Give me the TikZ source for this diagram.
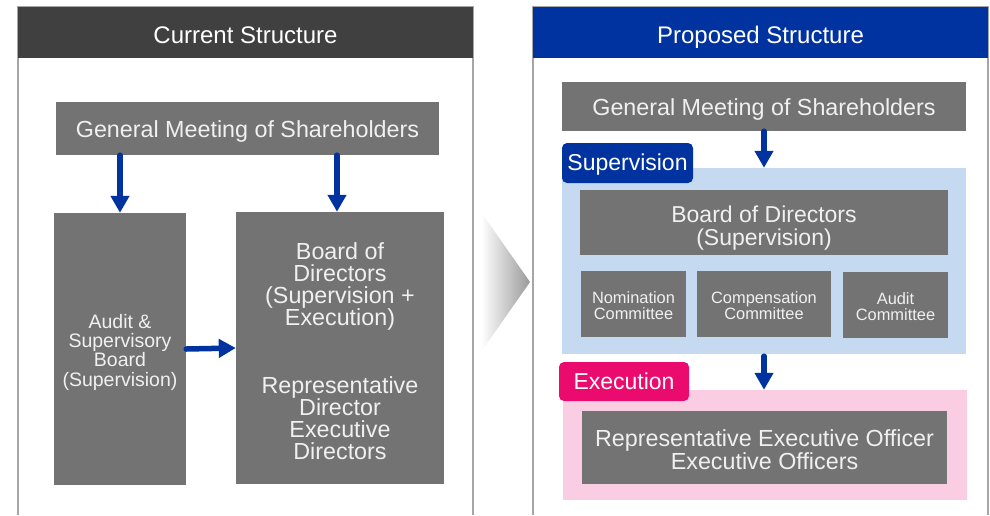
\documentclass[tikz,border=0pt]{standalone}
\usepackage{fontspec}
\setmainfont{Liberation Sans}
\usetikzlibrary{arrows.meta}
\definecolor{boxgray}{HTML}{737373}
\definecolor{headgray}{HTML}{404040}
\definecolor{framegray}{HTML}{A6A6A6}
\definecolor{navy}{HTML}{0033A0}
\definecolor{supblue}{HTML}{C5DAF0}
\definecolor{exepink}{HTML}{FBCDE3}
\definecolor{exered}{HTML}{EB0A6E}
\tikzset{
  box/.style={fill=boxgray, inner sep=0pt},
  boxtext/.style={text=white!94!black, inner sep=0pt, align=center, yshift=-3pt,
    font=\fontsize{23.3}{22}\selectfont},
  head/.style={inner sep=0pt, text=white, font=\fontsize{24}{24}\selectfont,
    text height=21pt, text depth=0pt},
  tag/.style={fill=navy, rounded corners=5pt, inner sep=0pt, text=white,
    font=\fontsize{23}{24}\selectfont, text height=18pt, text depth=3pt},
  blueline/.style={draw=navy, line width=5.5pt, line cap=round,
    -{Triangle[length=17pt,width=18pt]}}
}
\begin{document}
\begin{tikzpicture}[x=1pt,y=-1pt]
    \useasboundingbox (0,0) rectangle (990,515);

    \draw[framegray, line width=1.5pt] (18,515) -- (18,7) -- (473,7) -- (473,515);
    \node[head, fill=headgray, minimum width=455pt, minimum height=51pt] (hcur) at (245.5,32.5) {Current Structure};
    \draw[framegray, line width=1.5pt] (533,515) -- (533,7) -- (988,7) -- (988,515);
    \node[head, fill=navy, minimum width=455pt, minimum height=51pt] (hpro) at (760.5,32.5) {Proposed Structure};

    \shade[left color=white, right color=black!40] (481,212) -- (530,282) -- (481,352) -- cycle;

    \node[box, minimum width=383pt, minimum height=53pt,
        label={[boxtext]center:General Meeting of Shareholders}] (gmcur) at (247.5,128.5) {};
    \node[box, minimum width=132pt, minimum height=272pt,
        label={[boxtext, font=\fontsize{19.5}{19.3}\selectfont]center:{Audit \&\\Supervisory\\Board\\(Supervision)}}] (audit) at (120,349) {};
    \node[box, minimum width=208pt, minimum height=272pt,
        label={[boxtext]center:{Board of\\Directors\\(Supervision +\\Execution)\\[46pt]Representative\\Director\\Executive\\Directors}}] (boardcur) at (340,348) {};
    \draw[blueline] (audit.north |- gmcur.south) -- (audit.north);
    \draw[blueline] ([xshift=-3pt]boardcur.north |- gmcur.south) -- ([xshift=-3pt]boardcur.north);
    \draw[blueline] (audit.east) -- (boardcur.west);

    \node[box, minimum width=404pt, minimum height=49pt,
        label={[boxtext]center:General Meeting of Shareholders}] (gmpro) at (764,106.5) {};
    \node[fill=supblue, minimum width=404pt, minimum height=186pt, inner sep=0pt] (sup) at (764,261) {};
    \node[fill=exepink, minimum width=404pt, minimum height=110pt, inner sep=0pt] (exe) at (765,445) {};
    \node[tag, minimum width=131pt, minimum height=40pt] (tagsup) at (627.5,163) {Supervision};
    \node[tag, fill=exered, minimum width=130pt, minimum height=39pt] (tagexe) at (624,381.5) {Execution};
    \node[box, minimum width=368pt, minimum height=65pt,
        label={[boxtext, yshift=-3pt, font=\fontsize{23}{23}\selectfont]center:{Board of Directors\\(Supervision)}}] (boardpro) at (764,222.5) {};
    \node[box, minimum width=105pt, minimum height=66pt,
        label={[boxtext, yshift=1pt, font=\fontsize{16.4}{16}\selectfont]center:{Nomination\\Committee}}] (nom) at (633.5,304) {};
    \node[box, minimum width=134pt, minimum height=66pt,
        label={[boxtext, yshift=1pt, font=\fontsize{16.4}{16}\selectfont]center:{Compensation\\Committee}}] (comp) at (764,304) {};
    \node[box, minimum width=105pt, minimum height=66pt,
        label={[boxtext, yshift=1pt, font=\fontsize{16.4}{16}\selectfont]center:{Audit\\Committee}}] (aud) at (895.5,305) {};
    \node[box, minimum width=365pt, minimum height=73pt,
        label={[boxtext, yshift=1pt, font=\fontsize{23.3}{23}\selectfont]center:{Representative Executive Officer\\Executive Officers}}] (officers) at (764.5,447.5) {};
    \draw[blueline] (gmpro.south) -- (sup.north -| gmpro.south);
    \draw[blueline] ([yshift=-2pt]sup.south -| gmpro.south) -- (exe.north -| gmpro.south);
\end{tikzpicture}
\end{document}
